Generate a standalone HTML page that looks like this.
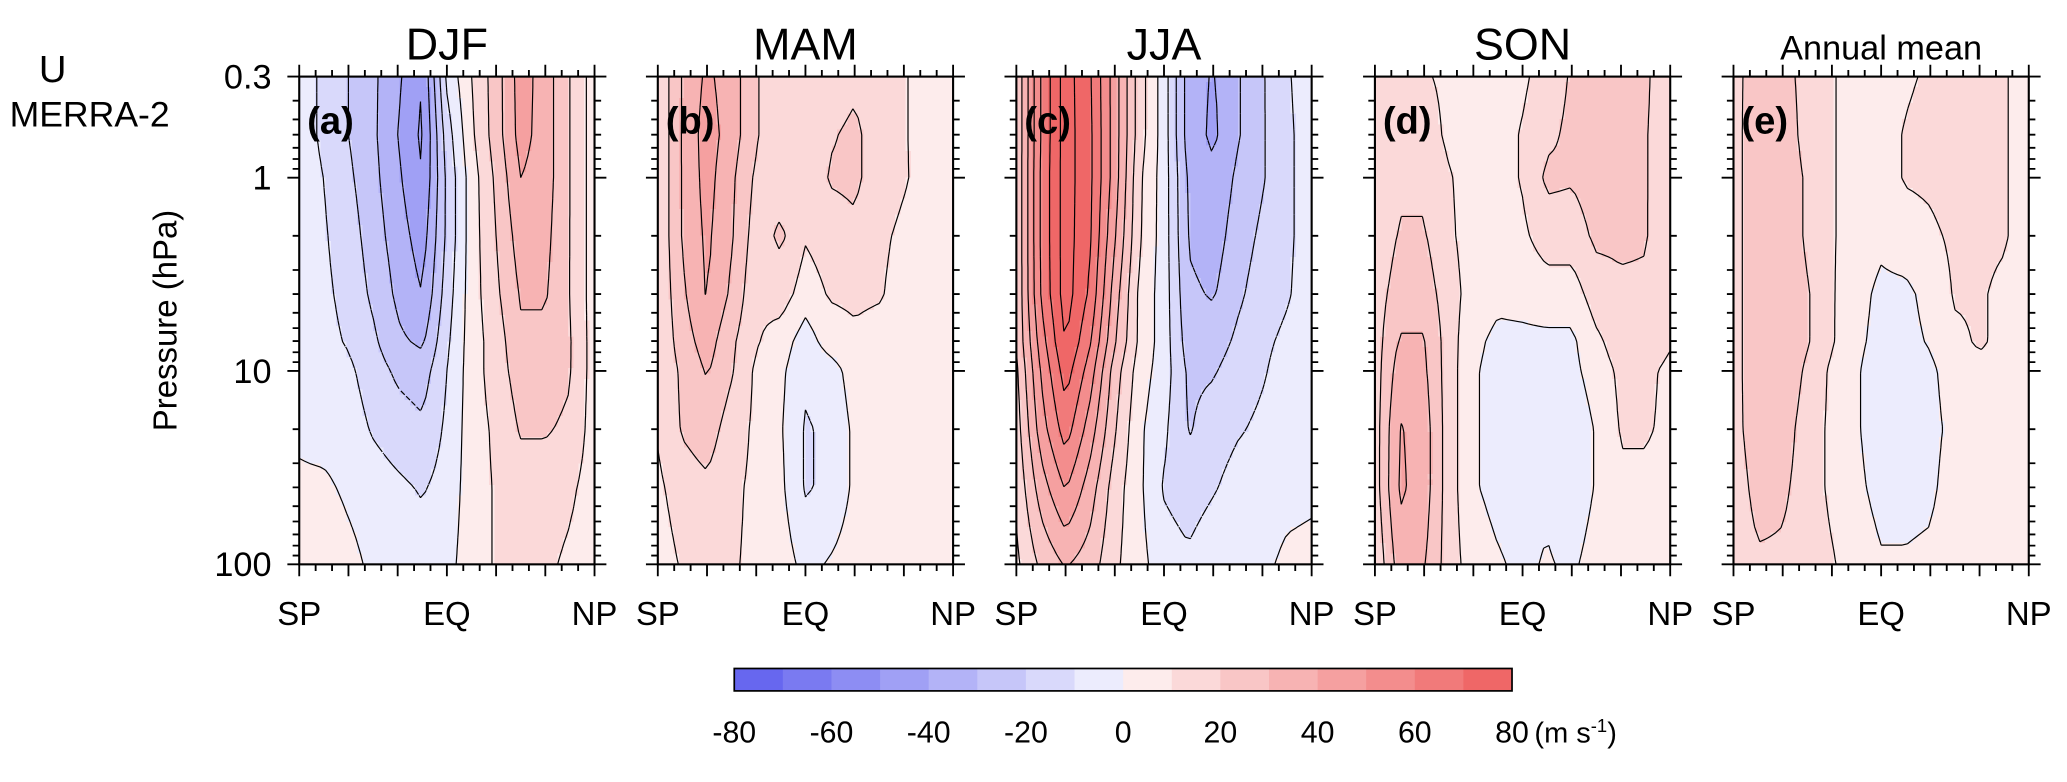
<!DOCTYPE html>
<html><head><meta charset="utf-8"><style>
html,body{margin:0;padding:0;background:#fff;}
svg{display:block;font-family:"Liberation Sans Narrow","Liberation Sans",sans-serif;}
</style></head><body>
<svg id="fig" width="2067" height="782" viewBox="0 0 1568 593" xmlns="http://www.w3.org/2000/svg">
<text x="40" y="62" font-size="29" text-anchor="middle">U</text>
<text x="68" y="96" font-size="27" text-anchor="middle">MERRA-2</text>
<text transform="translate(134,243) rotate(-90)" font-size="25" text-anchor="middle">Pressure (hPa)</text>
<g id="panels"></g>
<g id="cbar"></g>
</svg>
<script>
const NS='http://www.w3.org/2000/svg';
const lats=[-90,-75,-60,-45,-30,-15,0,15,30,45,60,75,90];
const levels=[0.3,0.6,1,2,4,7,10,20,40,100];
const seasons=['DJF','MAM','JJA','SON','Annual mean'];
const panelLetters=['(a)','(b)','(c)','(d)','(e)'];
const uDJF=[
[-5,-12,-20,-28,-38,-50,-8,10,25,45,35,20,5],
[-5,-12,-20,-28,-40,-52,-15,8,25,44,35,20,5],
[-5,-10,-18,-27,-38,-50,-18,5,22,40,35,20,5],
[-4,-9,-15,-25,-35,-45,-18,5,20,35,33,20,5],
[-3,-8,-13,-22,-32,-40,-15,5,18,31,31,20,5],
[-3,-7,-11,-18,-28,-32,-12,5,15,28,28,21,5],
[-3,-6,-8,-15,-22,-25,-10,5,15,25,25,21,5],
[-2,-4,-5,-11,-15,-18,-8,5,12,21,21,18,5],
[2,2,-2,-5,-8,-11,-6,5,11,15,15,12,5],
[5,8,3,-2,-3,-5,-3,5,11,15,12,8,3]];
const uMAM=[
[11,31,42,35,21,12,11,15,18,15,11,5,3],
[11,31,45,35,21,12,11,19,22,15,11,5,3],
[11,31,44,32,18,15,12,21,22,15,11,6,3],
[11,31,42,31,15,22,11,15,18,12,8,5,3],
[11,28,41,28,12,15,5,11,12,11,6,4,3],
[11,25,35,22,11,5,-5,5,8,6,4,3,2],
[11,22,31,21,8,2,-8,-5,5,5,3,2,2],
[11,21,25,15,8,1,-11,-8,2,3,2,2,2],
[8,15,18,12,8,2,-11,-8,2,3,2,2,2],
[5,11,12,11,8,5,-3,1,5,8,5,3,2]];
const uJJA=[
[21,61,85,71,45,15,-5,-35,-41,-31,-21,-11,-5],
[21,61,85,72,45,15,-5,-35,-42,-31,-21,-12,-5],
[21,62,85,72,45,12,-5,-32,-38,-28,-21,-12,-5],
[21,62,85,71,41,11,-5,-31,-35,-25,-18,-12,-5],
[21,61,85,68,35,8,-5,-28,-31,-22,-15,-11,-5],
[21,55,81,61,31,8,-5,-25,-25,-18,-12,-8,-5],
[18,51,75,55,25,5,-5,-22,-21,-15,-11,-6,-4],
[15,45,65,45,21,2,-8,-21,-15,-11,-8,-5,-3],
[12,35,51,35,15,2,-11,-15,-11,-6,-5,-3,-2],
[8,22,31,25,12,3,-5,-8,-3,-2,-2,2,3]];
const uSON=[
[11,11,11,8,5,5,8,15,21,25,25,22,11],
[11,15,15,8,5,5,11,18,22,25,25,21,11],
[12,18,18,11,5,5,11,22,21,25,25,21,11],
[12,21,21,12,5,5,8,15,15,22,22,21,11],
[15,25,25,15,5,2,3,5,5,15,18,18,11],
[15,31,31,15,2,-2,-2,-2,-2,8,15,15,11],
[15,35,32,15,1,-3,-3,-3,-3,5,12,12,8],
[15,41,35,15,1,-3,-5,-3,-8,1,11,11,8],
[15,42,35,15,1,-3,-3,-2,-8,1,8,8,5],
[11,35,31,15,5,1,-2,1,-2,5,8,5,3]];
const uANN=[
[15,28,25,15,11,5,5,8,12,18,15,11,5],
[15,29,28,15,11,5,5,11,15,18,15,11,5],
[15,29,29,18,11,5,5,11,12,15,12,11,5],
[15,29,29,18,11,5,2,5,8,12,12,11,5],
[15,29,29,21,11,3,-2,-2,3,11,11,8,5],
[15,29,28,21,11,2,-3,-3,1,8,11,8,5],
[15,29,28,18,8,1,-5,-5,-2,5,8,8,5],
[15,28,25,15,8,1,-5,-5,-3,3,8,6,5],
[12,25,22,15,8,2,-3,-3,-2,5,8,6,4],
[11,18,18,15,11,5,1,1,2,8,8,5,3]];
const allData=[uDJF,uMAM,uJJA,uSON,uANN];
const cbarTicks=[-80,-60,-40,-20,0,20,40,60,80];
const yTickLabels=['0.3','1','10','100'];
const yTickValues=[0.3,1,10,100];

const PX0=227, PSTEP=272, PW=224, PT=58, PB=428;
const LP0=Math.log10(0.3), LP1=Math.log10(100);
function xScale(i,lat){return PX0+PSTEP*i+(lat+90)/180*PW;}
function yScale(p){return PT+(Math.log10(p)-LP0)/(LP1-LP0)*(PB-PT);}
function colorFor(v){
  let b=Math.floor(v/10); if(b<-8)b=-8; if(b>7)b=7;
  if(b>=0){const k=b+1;const c=255-k*19;return `rgb(${255-k*2},${c},${c})`;}
  const k=-b;const c=255-k*19;return `rgb(${c},${c},${255-k*2})`;
}
function sample(grid,lat,lp){
  let fi=(lat+90)/15; let i=Math.min(Math.floor(fi),lats.length-2); let tx=fi-i;
  const llv=levels.map(Math.log10);
  let j=0; while(j<llv.length-2 && lp>llv[j+1]) j++;
  let ty=(lp-llv[j])/(llv[j+1]-llv[j]); ty=Math.max(0,Math.min(1,ty));
  const a=grid[j][i],b=grid[j][i+1],c=grid[j+1][i],d=grid[j+1][i+1];
  return a*(1-tx)*(1-ty)+b*tx*(1-ty)+c*(1-tx)*ty+d*tx*ty;
}
function mk(tag,attrs,parent){const e=document.createElementNS(NS,tag);for(const k in attrs)e.setAttribute(k,attrs[k]);parent.appendChild(e);return e;}

const panels=document.getElementById('panels');
const NX=56, NY=92;
allData.forEach((grid,pi)=>{
  const g=mk('g',{},panels);
  
  
  const x0=xScale(pi,-90), x1=xScale(pi,90);
  const cw=(x1-x0)/NX, ch=(PB-PT)/NY;
  const V=[];
  for(let r=0;r<=NY;r++){const row=[];const lp=LP0+(LP1-LP0)*r/NY;
    for(let c=0;c<=NX;c++){row.push(sample(grid,-90+180*c/NX,lp));}V.push(row);}
  const fill=mk('g',{'shape-rendering':'crispEdges'},g);
  
  
  for(let r=0;r<NY;r++)for(let c=0;c<NX;c++){
    const v=(V[r][c]+V[r][c+1]+V[r+1][c]+V[r+1][c+1])/4;
    mk('rect',{x:(x0+c*cw).toFixed(2),y:(PT+r*ch).toFixed(2),width:(cw+0.4).toFixed(2),height:(ch+0.4).toFixed(2),fill:colorFor(v)},fill);
  }
  for(let L=-90;L<=90;L+=10){
    let d='';
    for(let r=0;r<NY;r++)for(let c=0;c<NX;c++){
      const a=V[r][c],b=V[r][c+1],cc=V[r+1][c+1],dd=V[r+1][c];
      const pts=[];
      const X=c*cw+x0,Y=PT+r*ch;
      const edge=(v1,v2,p1,p2)=>{if((v1<L)!==(v2<L)){const t=(L-v1)/(v2-v1);pts.push([p1[0]+(p2[0]-p1[0])*t,p1[1]+(p2[1]-p1[1])*t]);}};
      edge(a,b,[X,Y],[X+cw,Y]);edge(b,cc,[X+cw,Y],[X+cw,Y+ch]);edge(cc,dd,[X+cw,Y+ch],[X,Y+ch]);edge(dd,a,[X,Y+ch],[X,Y]);
      for(let k=0;k+1<pts.length;k+=2)d+=`M${pts[k][0].toFixed(1)} ${pts[k][1].toFixed(1)}L${pts[k+1][0].toFixed(1)} ${pts[k+1][1].toFixed(1)}`;
    }
    if(d){const p=mk('path',{d:d,fill:'none',stroke:'#000','stroke-width':'0.9'},g);
      if(L<0)p.setAttribute('stroke-dasharray','4 3');
      
      }
  }
  const fr=mk('rect',{x:x0,y:PT,width:x1-x0,height:PB-PT,fill:'none',stroke:'#000','stroke-width':'1.6'},g);
  
  
  let td='';
  for(let lat=-90;lat<=90;lat+=10){const x=xScale(pi,lat);const L=(lat%30===0)?9:5;td+=`M${x} ${PT}V${PT-L}M${x} ${PB}V${PB+L}`;}
  for(let dec=0.1;dec<=100;dec*=10)for(let m=1;m<10;m++){const p=dec*m;if(p<0.3-1e-9||p>100+1e-9)continue;const y=yScale(p);const L=(m===1||Math.abs(p-0.3)<1e-9)?9:5;td+=`M${x0} ${y.toFixed(1)}H${x0-L}M${x1} ${y.toFixed(1)}H${x1+L}`;}
  const tk=mk('path',{d:td,stroke:'#000','stroke-width':'1.4',fill:'none'},g);
  
  
  const t=mk('text',{x:(x0+x1)/2,y:45,'font-size':seasons[pi].length>3?26:34,'text-anchor':'middle'},g);
  t.textContent=seasons[pi];
  
  
  const lt=mk('text',{x:x0+6,y:101,'font-size':29,'font-weight':'bold'},g);
  lt.textContent=panelLetters[pi];
  
  
  [['SP',-90],['EQ',0],['NP',90]].forEach(([s,lat])=>{
    const xt=mk('text',{x:xScale(pi,lat),y:474,'font-size':25,'text-anchor':'middle'},g);
    xt.textContent=s;
    
    
  });
  if(pi===0){
    yTickValues.forEach((p,k)=>{
      const yt=mk('text',{x:206,y:yScale(p)+9,'font-size':26,'text-anchor':'end'},g);
      yt.textContent=yTickLabels[k];
      
      
    });
  }
});
const cb=document.getElementById('cbar');
const CB0=557,CB1=1147,CBT=507,CBB=524;
function cbX(v){return CB0+(v+80)/160*(CB1-CB0);}
for(let v=-80;v<80;v+=10){
  const r=mk('rect',{x:cbX(v),y:CBT,width:cbX(v+10)-cbX(v)+0.3,height:CBB-CBT,fill:colorFor(v+5)},cb);
  
  
}
mk('rect',{x:CB0,y:CBT,width:CB1-CB0,height:CBB-CBT,fill:'none',stroke:'#000','stroke-width':'1.3'},cb);
cbarTicks.forEach(v=>{
  const t=mk('text',{x:cbX(v),y:563,'font-size':23,'text-anchor':'middle'},cb);
  t.textContent=String(v);
  
  
});
const u=mk('text',{x:1164,y:563,'font-size':22},cb);
u.innerHTML='(m s<tspan font-size="14" dy="-8">-1</tspan><tspan dy="8">)</tspan>';


</script>
</body></html>
